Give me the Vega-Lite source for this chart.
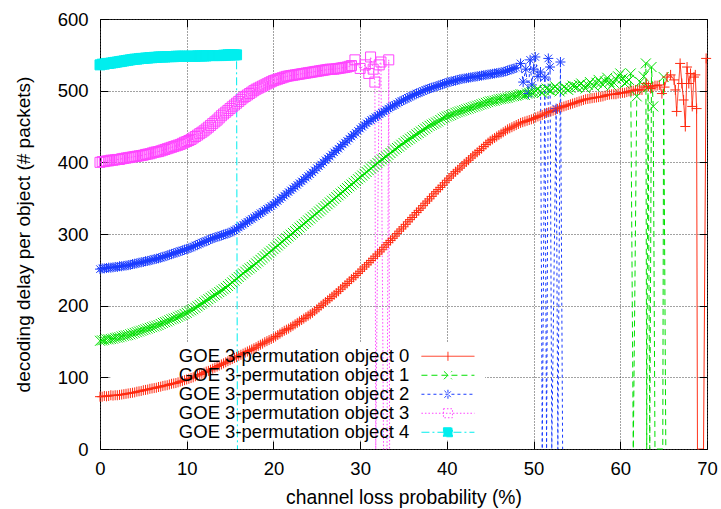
{
"$schema":"https://vega.github.io/schema/vega-lite/v6.json",
"autosize":"none","width":607,"height":430,
"padding":{"left":100,"top":19,"right":14,"bottom":60},
"background":"white",
"config":{"font":"Liberation Sans","view":{"stroke":"black","strokeWidth":1}},
"datasets":{"d":[
{"x":0,"0":73,"1":151,"2":251,"3":400,"4":536},
{"x":0.25,"0":73,"1":151.5,"2":252,"3":401,"4":537},
{"x":0.5,"0":74,"1":152,"2":252,"3":401,"4":537},
{"x":0.75,"0":73.5,"1":153,"2":252.5,"3":402,"4":538},
{"x":1,"0":74,"1":153,"2":253,"3":402,"4":538},
{"x":1.25,"0":75,"1":153.5,"2":253,"3":403,"4":538.5},
{"x":1.5,"0":74.5,"1":154,"2":253.5,"3":403,"4":539},
{"x":1.75,"0":75,"1":155,"2":254,"3":403.5,"4":539.5},
{"x":2,"0":75,"1":155.5,"2":254,"3":404,"4":540},
{"x":2.25,"0":75.5,"1":156,"2":255,"3":404,"4":540.5},
{"x":2.5,"0":76,"1":157,"2":255,"3":405,"4":541},
{"x":2.75,"0":76.5,"1":158,"2":255.5,"3":405.5,"4":541.5},
{"x":3,"0":77,"1":158.5,"2":256,"3":406,"4":542},
{"x":3.25,"0":77.5,"1":159,"2":256.5,"3":406.5,"4":542.5},
{"x":3.5,"0":78,"1":160,"2":257,"3":407,"4":543},
{"x":3.75,"0":78.5,"1":161,"2":258,"3":407.5,"4":543.5},
{"x":4,"0":79,"1":162,"2":258.5,"3":408,"4":544},
{"x":4.25,"0":80,"1":163,"2":259,"3":408.5,"4":544},
{"x":4.5,"0":80.5,"1":164,"2":260,"3":409,"4":544.5},
{"x":4.75,"0":81,"1":165,"2":260.5,"3":409.5,"4":545},
{"x":5,"0":82,"1":166,"2":261,"3":410,"4":545},
{"x":5.25,"0":82.5,"1":167,"2":262,"3":411,"4":545.5},
{"x":5.5,"0":83,"1":168,"2":262.5,"3":411.5,"4":545.5},
{"x":5.75,"0":84,"1":169,"2":263,"3":412,"4":546},
{"x":6,"0":84.5,"1":170,"2":264,"3":413,"4":546},
{"x":6.25,"0":85,"1":171,"2":265,"3":414,"4":546.5},
{"x":6.5,"0":85.5,"1":172,"2":265.5,"3":414.5,"4":546.5},
{"x":6.75,"0":86.5,"1":173,"2":266,"3":415,"4":547},
{"x":7,"0":87,"1":174.5,"2":267,"3":416,"4":547},
{"x":7.25,"0":88,"1":176,"2":268,"3":417,"4":547},
{"x":7.5,"0":88.5,"1":177,"2":269,"3":418,"4":547},
{"x":7.75,"0":89,"1":178,"2":270,"3":419,"4":547.5},
{"x":8,"0":90,"1":179.5,"2":271,"3":420,"4":547.5},
{"x":8.25,"0":91,"1":181,"2":272,"3":421,"4":547.5},
{"x":8.5,"0":91.5,"1":182,"2":273,"3":422,"4":547.5},
{"x":8.75,"0":92,"1":183,"2":274,"3":423,"4":548},
{"x":9,"0":93,"1":184.5,"2":275,"3":424,"4":548},
{"x":9.25,"0":94,"1":186,"2":276,"3":425,"4":548},
{"x":9.5,"0":95,"1":187,"2":277,"3":426.5,"4":548},
{"x":9.75,"0":96,"1":188.5,"2":278,"3":428,"4":548},
{"x":10,"0":97,"1":190,"2":279,"3":429,"4":548},
{"x":10.25,"0":98,"1":192,"2":280,"3":430.5,"4":548},
{"x":10.5,"0":99,"1":193.5,"2":281,"3":432,"4":548},
{"x":10.75,"0":100,"1":195,"2":282.5,"3":434,"4":548},
{"x":11,"0":101.5,"1":197,"2":284,"3":436,"4":548},
{"x":11.25,"0":103,"1":199,"2":285,"3":438,"4":548.5},
{"x":11.5,"0":104,"1":201,"2":286.5,"3":440,"4":548.5},
{"x":11.75,"0":105,"1":203,"2":288,"3":442,"4":548.5},
{"x":12,"0":106.5,"1":205,"2":289,"3":444,"4":548.5},
{"x":12.25,"0":108,"1":207,"2":290,"3":446.5,"4":548.5},
{"x":12.5,"0":109,"1":209,"2":291.5,"3":449,"4":549},
{"x":12.75,"0":110.5,"1":211,"2":293,"3":451.5,"4":549},
{"x":13,"0":112,"1":213,"2":294,"3":454,"4":549},
{"x":13.25,"0":113.5,"1":215,"2":295,"3":456.5,"4":549},
{"x":13.5,"0":115,"1":217,"2":296,"3":459,"4":549},
{"x":13.75,"0":116.5,"1":219,"2":297,"3":462,"4":549},
{"x":14,"0":118,"1":221,"2":298,"3":465,"4":549},
{"x":14.25,"0":119.5,"1":223,"2":299,"3":467.5,"4":549.5},
{"x":14.5,"0":121,"1":225,"2":300,"3":470,"4":549.5},
{"x":14.75,"0":122.5,"1":227.5,"2":301,"3":472.5,"4":550},
{"x":15,"0":124,"1":230,"2":302,"3":475,"4":550},
{"x":15.25,"0":125.5,"1":232.5,"2":303.5,"3":477.5,"4":550},
{"x":15.5,"0":127,"1":235,"2":305,"3":480,"4":550},
{"x":15.75,"0":128.5,"1":237.5,"2":307,"3":482.5,"4":550},
{"x":15.85,"4":0},
{"x":16,"0":130,"1":240,"2":309,"3":485},
{"x":16.25,"0":131.5,"1":242.5,"2":311,"3":487.5},
{"x":16.5,"0":133,"1":245,"2":313,"3":490},
{"x":16.75,"0":134.5,"1":247.5,"2":315,"3":492},
{"x":17,"0":136,"1":250,"2":317,"3":494},
{"x":17.25,"0":137.5,"1":252,"2":319,"3":496},
{"x":17.5,"0":139,"1":254,"2":321,"3":498},
{"x":17.75,"0":140.5,"1":256.5,"2":323,"3":500},
{"x":18,"0":142,"1":259,"2":325,"3":502},
{"x":18.25,"0":144,"1":261.5,"2":327,"3":503.5},
{"x":18.5,"0":145.5,"1":264,"2":329,"3":505},
{"x":18.75,"0":147,"1":266.5,"2":331,"3":506.5},
{"x":19,"0":149,"1":269,"2":333,"3":508},
{"x":19.25,"0":150.5,"1":271.5,"2":335,"3":509.5},
{"x":19.5,"0":152,"1":274,"2":337,"3":511},
{"x":19.75,"0":153.5,"1":276.5,"2":339,"3":512.5},
{"x":20,"0":155,"1":279,"2":341,"3":514},
{"x":20.25,"0":157,"1":281.5,"2":343.5,"3":515},
{"x":20.5,"0":159,"1":284,"2":346,"3":516},
{"x":20.75,"0":161,"1":286.5,"2":348.5,"3":517},
{"x":21,"0":163,"1":289,"2":351,"3":518},
{"x":21.25,"0":165,"1":291.5,"2":353.5,"3":519},
{"x":21.5,"0":166.5,"1":294,"2":356,"3":520},
{"x":21.75,"0":168,"1":296.5,"2":358.5,"3":520.5},
{"x":22,"0":170,"1":299,"2":361,"3":521},
{"x":22.25,"0":172,"1":301.5,"2":363.5,"3":521.5},
{"x":22.5,"0":174,"1":304,"2":366,"3":522},
{"x":22.75,"0":176,"1":306.5,"2":368.5,"3":522.5},
{"x":23,"0":178,"1":309,"2":371,"3":523},
{"x":23.25,"0":180,"1":311.5,"2":373.5,"3":523.5},
{"x":23.5,"0":182,"1":314,"2":376,"3":524},
{"x":23.75,"0":184,"1":316.5,"2":378.5,"3":524.5},
{"x":24,"0":186,"1":319,"2":381,"3":525},
{"x":24.25,"0":188,"1":321.5,"2":383.5,"3":525.5},
{"x":24.5,"0":190,"1":324,"2":386,"3":526},
{"x":24.75,"0":192.5,"1":326.5,"2":389,"3":526.5},
{"x":25,"0":195,"1":329,"2":392,"3":527},
{"x":25.25,"0":197.5,"1":331.5,"2":394.5,"3":527.5},
{"x":25.5,"0":200,"1":334,"2":397,"3":528},
{"x":25.75,"0":202.5,"1":336.5,"2":400,"3":528.5},
{"x":26,"0":205,"1":339,"2":403,"3":529},
{"x":26.25,"0":207.5,"1":341.5,"2":405.5,"3":529.5},
{"x":26.5,"0":210,"1":344,"2":408,"3":530},
{"x":26.75,"0":212.5,"1":346.5,"2":411,"3":530},
{"x":27,"0":215,"1":349,"2":414,"3":530},
{"x":27.25,"0":217.5,"1":351.5,"2":416.5,"3":530.5},
{"x":27.5,"0":220,"1":354,"2":419,"3":531},
{"x":27.75,"0":223,"1":356.5,"2":422,"3":531.5},
{"x":28,"0":226,"1":359,"2":425,"3":532},
{"x":28.25,"0":228.5,"1":361.5,"2":427.5,"3":532.5},
{"x":28.5,"0":231,"1":364,"2":430,"3":533},
{"x":28.75,"0":234,"1":366.5,"2":433,"3":534},
{"x":29,"0":237,"1":369,"2":436,"3":535},
{"x":29.25,"0":239.5,"1":371.5,"2":438.5},
{"x":29.4,"3":543},
{"x":29.5,"0":242,"1":374,"2":441},
{"x":29.75,"0":245,"1":376.5,"2":444},
{"x":30,"0":248,"1":379,"2":447,"3":531},
{"x":30.25,"0":251,"1":381.5,"2":449.5},
{"x":30.5,"0":254,"1":384,"2":452},
{"x":30.6,"3":536},
{"x":30.75,"0":257,"1":386.5,"2":454.5},
{"x":31,"0":260,"1":389,"2":457,"3":524},
{"x":31.2,"3":547},
{"x":31.25,"0":263,"1":391.5,"2":459},
{"x":31.5,"0":266,"1":394,"2":461,"3":530},
{"x":31.7,"3":512},
{"x":31.75,"0":269,"1":396.5,"2":463},
{"x":31.8,"3":0},
{"x":32,"0":272,"1":399,"2":465},
{"x":32.2,"3":536},
{"x":32.25,"0":275,"1":401.5,"2":467},
{"x":32.4,"3":540},
{"x":32.5,"0":278,"1":404,"2":469},
{"x":32.7,"3":0},
{"x":32.75,"0":281.5,"1":406,"2":471},
{"x":33,"0":285,"1":408,"2":473},
{"x":33.1,"3":0},
{"x":33.25,"0":288,"1":410.5,"2":475},
{"x":33.3,"3":543},
{"x":33.4,"3":0},
{"x":33.5,"0":291,"1":413,"2":477},
{"x":33.75,"0":294,"1":415.5,"2":478.5},
{"x":34,"0":297,"1":418,"2":480},
{"x":34.25,"0":300.5,"1":420,"2":482},
{"x":34.5,"0":304,"1":422,"2":484},
{"x":34.75,"0":307,"1":424.5,"2":485.5},
{"x":35,"0":310,"1":427,"2":487},
{"x":35.25,"0":313.5,"1":429,"2":488.5},
{"x":35.5,"0":317,"1":431,"2":490},
{"x":35.75,"0":320,"1":433,"2":491.5},
{"x":36,"0":323,"1":435,"2":493},
{"x":36.25,"0":326.5,"1":437,"2":494.5},
{"x":36.5,"0":330,"1":439,"2":496},
{"x":36.75,"0":333,"1":441,"2":497},
{"x":37,"0":336,"1":443,"2":498},
{"x":37.25,"0":339.5,"1":445,"2":499.5},
{"x":37.5,"0":343,"1":447,"2":501},
{"x":37.75,"0":346,"1":449,"2":502},
{"x":38,"0":349,"1":451,"2":503},
{"x":38.25,"0":352.5,"1":452.5,"2":504},
{"x":38.5,"0":356,"1":454,"2":505},
{"x":38.75,"0":359,"1":455.5,"2":506},
{"x":39,"0":362,"1":457,"2":507},
{"x":39.25,"0":365,"1":459,"2":508},
{"x":39.5,"0":368,"1":461,"2":509},
{"x":39.75,"0":371.5,"1":462.5,"2":510},
{"x":40,"0":375,"1":464,"2":511},
{"x":40.25,"0":378,"1":465,"2":512},
{"x":40.5,"0":381,"1":466,"2":513},
{"x":40.75,"0":384,"1":467.5,"2":513.5},
{"x":41,"0":387,"1":469,"2":514},
{"x":41.25,"0":389.5,"1":470,"2":515},
{"x":41.5,"0":392,"1":471,"2":516},
{"x":41.75,"0":395,"1":472,"2":516.5},
{"x":42,"0":398,"1":473,"2":517},
{"x":42.25,"0":400.5,"1":474,"2":517.5},
{"x":42.5,"0":403,"1":475,"2":518},
{"x":42.75,"0":406,"1":476,"2":518.5},
{"x":43,"0":409,"1":477,"2":519},
{"x":43.25,"0":411.5,"1":478,"2":519.5},
{"x":43.5,"0":414,"1":479,"2":520},
{"x":43.75,"0":416.5,"1":480,"2":520.5},
{"x":44,"0":419,"1":481,"2":521},
{"x":44.25,"0":422,"1":482,"2":521.5},
{"x":44.5,"0":425,"1":483,"2":522},
{"x":44.75,"0":427.5,"1":484,"2":522.5},
{"x":45,"0":430,"1":485,"2":523},
{"x":45.25,"0":432,"1":485.5,"2":523.5},
{"x":45.5,"0":434,"1":486,"2":524},
{"x":45.75,"0":436,"1":487,"2":524.5},
{"x":46,"0":438,"1":488,"2":525},
{"x":46.25,"0":440,"1":488.5,"2":525.5},
{"x":46.5,"0":442,"1":489,"2":526},
{"x":46.75,"0":444,"1":489.5,"2":527},
{"x":47,"0":446,"1":490,"2":528},
{"x":47.25,"0":447.5,"1":491,"2":529},
{"x":47.5,"0":449,"1":492,"2":530},
{"x":47.75,"0":450.5,"1":492.5,"2":531},
{"x":48,"0":452,"1":493,"2":532},
{"x":48.25,"0":453.5,"1":494},
{"x":48.5,"0":455,"1":495,"2":538},
{"x":48.75,"0":456,"1":494.5},
{"x":48.8,"2":512},
{"x":49,"0":457,"1":494},
{"x":49.1,"2":530},
{"x":49.25,"0":458,"1":496},
{"x":49.4,"2":496},
{"x":49.5,"0":459,"1":497},
{"x":49.6,"2":543},
{"x":49.75,"0":460,"1":497.5},
{"x":49.8,"2":508},
{"x":50,"0":461,"1":498,"2":530},
{"x":50.2,"2":547},
{"x":50.25,"0":462.5,"1":500},
{"x":50.5,"0":464,"1":502,"2":520},
{"x":50.75,"0":465,"1":499},
{"x":50.8,"2":526},
{"x":51,"0":466,"1":497,"2":0},
{"x":51.25,"0":467.5,"1":500},
{"x":51.3,"2":519},
{"x":51.5,"0":469,"1":503,"2":0},
{"x":51.7,"2":545},
{"x":51.75,"0":470,"1":501},
{"x":51.9,"2":533},
{"x":52,"0":471,"1":500},
{"x":52.1,"2":0},
{"x":52.25,"0":472,"1":503},
{"x":52.5,"0":473,"1":506},
{"x":52.6,"2":475},
{"x":52.75,"0":474.5,"1":502},
{"x":52.8,"2":0},
{"x":53,"0":476,"1":499},
{"x":53.1,"2":540},
{"x":53.25,"0":477,"1":502},
{"x":53.35,"2":0},
{"x":53.5,"0":478,"1":505},
{"x":53.75,"0":479,"1":503},
{"x":54,"0":480,"1":501},
{"x":54.25,"0":481,"1":504},
{"x":54.5,"0":482,"1":507},
{"x":54.75,"0":483,"1":506},
{"x":55,"0":484,"1":505},
{"x":55.25,"0":485,"1":508},
{"x":55.5,"0":486,"1":510},
{"x":55.75,"0":487,"1":506},
{"x":56,"0":488,"1":503},
{"x":56.25,"0":488.5,"1":508},
{"x":56.5,"0":489,"1":512},
{"x":56.75,"0":489.5,"1":509},
{"x":57,"0":490,"1":506},
{"x":57.25,"0":490.5,"1":511},
{"x":57.5,"0":491,"1":515},
{"x":57.75,"0":491.5,"1":511},
{"x":58,"0":492,"1":508},
{"x":58.25,"0":493,"1":513},
{"x":58.5,"0":494,"1":518},
{"x":58.75,"0":494.5,"1":512},
{"x":59,"0":495,"1":507},
{"x":59.25,"0":495,"1":511},
{"x":59.5,"0":495,"1":516},
{"x":59.75,"0":496,"1":520},
{"x":60,"0":497,"1":524},
{"x":60.25,"0":497,"1":517},
{"x":60.5,"0":497,"1":510},
{"x":60.75,"0":498,"1":512},
{"x":61,"0":499,"1":515},
{"x":61.2,"1":524},
{"x":61.25,"0":499.5},
{"x":61.5,"0":500,"1":0},
{"x":61.75,"0":501},
{"x":61.9,"1":492},
{"x":62,"0":502},
{"x":62.25,"0":501},
{"x":62.3,"1":512},
{"x":62.5,"0":501},
{"x":62.7,"1":520},
{"x":62.75,"0":505},
{"x":62.95,"1":538},
{"x":63,"0":510},
{"x":63.05,"1":0},
{"x":63.2,"1":505},
{"x":63.25,"0":506},
{"x":63.4,"1":0},
{"x":63.5,"0":503},
{"x":63.6,"1":533},
{"x":63.75,"0":505},
{"x":63.8,"1":478},
{"x":64,"0":507,"1":0},
{"x":64.25,"0":507},
{"x":64.5,"0":508},
{"x":64.8,"0":496},
{"x":64.9,"1":0},
{"x":65,"1":519},
{"x":65.1,"0":505},
{"x":65.25,"1":0},
{"x":65.4,"0":519},
{"x":65.8,"0":522},
{"x":66.2,"0":515},
{"x":66.35,"0":501},
{"x":66.5,"0":471},
{"x":66.9,"0":538},
{"x":67.1,"0":510},
{"x":67.3,"0":487},
{"x":67.5,"0":450},
{"x":67.7,"0":533},
{"x":67.9,"0":510},
{"x":68.1,"0":524},
{"x":68.3,"0":478},
{"x":68.5,"0":519},
{"x":68.65,"0":522},
{"x":68.8,"0":475},
{"x":68.9,"0":0},
{"x":69.6,"0":0},
{"x":69.9,"0":545}
]},
"resolve":{"axis":{"x":"independent","y":"independent"}},
"layer":[
{"data":{"values":[{}]},
 "mark":{"type":"rect","fill":"white","stroke":null},
 "encoding":{
  "x":{"datum":1.2,"type":"quantitative","scale":{"domain":[0,70],"nice":false},
       "axis":{"orient":"top","values":[0,10,20,30,40,50,60,70],"labels":false,"grid":false,"domain":false,"tickSize":-8,"tickColor":"black","title":null,"zindex":1}},
  "x2":{"datum":44.4},
  "y":{"datum":12,"type":"quantitative","scale":{"domain":[0,600],"nice":false},
       "axis":{"orient":"right","values":[0,100,200,300,400,500,600],"labels":false,"grid":false,"domain":false,"tickSize":-8,"tickColor":"black","title":null,"zindex":1}},
  "y2":{"datum":148}}},
{"data":{"name":"d"},
 "transform":[{"fold":["0","1","2","3","4"],"as":["s","y"]},{"filter":"isValid(datum.y)"}],
 "mark":{"type":"line","strokeWidth":1},
 "encoding":{
  "x":{"field":"x","type":"quantitative","scale":{"domain":[0,70],"nice":false},
       "axis":{"orient":"bottom","values":[0,10,20,30,40,50,60,70],"grid":true,"gridDash":[1,2],"gridColor":"#444","domain":false,"tickSize":-8,"tickColor":"black","labelPadding":18,"labelFontSize":18.5,"labelColor":"black","labelFlush":false,"title":"channel loss probability (%)","titleFontSize":19.3,"titleFontWeight":"normal","titleColor":"black","titleBaseline":"alphabetic","titleX":303.5,"titleY":54.5}},
  "y":{"field":"y","type":"quantitative","scale":{"domain":[0,600],"nice":false},
       "axis":{"orient":"left","values":[0,100,200,300,400,500,600],"grid":true,"gridDash":[1,2],"gridColor":"#444","domain":false,"tickSize":-8,"tickColor":"black","labelPadding":20,"labelFontSize":18.5,"labelColor":"black","title":"decoding delay per object (# packets)","titleFontSize":19,"titleFontWeight":"normal","titleColor":"black","titleAngle":-90,"titleAlign":"center","titleBaseline":"alphabetic","titleX":-71,"titleY":215}},
  "color":{"field":"s","type":"nominal","scale":{"domain":["0","1","2","3","4"],"range":["#ff2a10","#00e000","#1a3cff","#ff44ff","#00eeee"]},
    "legend":{"title":null,"orient":"none","legendX":338.7,"legendY":328,"padding":0,"rowPadding":0,
      "labelExpr":"'GOE 3-permutation object ' + datum.label","labelAlign":"right","labelOffset":-48,"labelFontSize":18.5,"labelColor":"black","labelLimit":0,
      "symbolSize":100,"symbolStrokeWidth":1,
      "encoding":{"symbols":{
        "shape":{"value":{"expr":"['M-5.3,0H5.3M0,-0.9V0.9','M-5.3,0H5.3M-0.8,-0.8L0.8,0.8M-0.8,0.8L0.8,-0.8','M-5.3,0H5.3M0,-0.9V0.9M-0.7,-0.7L0.7,0.7M-0.7,0.7L0.7,-0.7','M-5.3,0H5.3M-0.9,-0.9H0.9V0.9H-0.9Z','M-5.3,0H5.3M-0.9,-0.9H0.9V0.9H-0.9Z'][toNumber(datum.value)]"}},
        "strokeDash":{"value":{"expr":"[[1,0],[6,4],[3,3],[1.5,2],[8,3,2,3]][toNumber(datum.value)]"}},
        "fill":{"value":{"expr":"datum.value == '4' ? '#00eeee' : 'transparent'"}},
        "strokeWidth":{"value":1},
        "opacity":{"value":1}}}}},
  "strokeDash":{"field":"s","type":"nominal","scale":{"domain":["0","1","2","3","4"],"range":[[1,0],[6,4],[3,3],[1.5,2],[8,3,2,3]]},"legend":null}}},
{"data":{"name":"d"},
 "transform":[{"fold":["0","1","2","3","4"],"as":["s","y"]},{"filter":"isValid(datum.y) && datum.y > 0"}],
 "mark":{"type":"point","filled":false,"strokeWidth":1,"size":100,"opacity":1},
 "encoding":{
  "x":{"field":"x","type":"quantitative","scale":{"domain":[0,70],"nice":false},"axis":null},
  "y":{"field":"y","type":"quantitative","scale":{"domain":[0,600],"nice":false},"axis":null},
  "color":{"field":"s","type":"nominal","scale":{"domain":["0","1","2","3","4"],"range":["#ff2a10","#00e000","#1a3cff","#ff44ff","#00eeee"]},"legend":null},
  "fill":{"condition":{"test":"datum.s === '4'","value":"#00eeee"},"value":"transparent"},
  "shape":{"value":{"expr":"['M-1,0H1M0,-1V1','M-1,-1L1,1M-1,1L1,-1','M-1,0H1M0,-1V1M-0.75,-0.75L0.75,0.75M-0.75,0.75L0.75,-0.75','square','square'][toNumber(datum.s)]"}}}}
]
}
